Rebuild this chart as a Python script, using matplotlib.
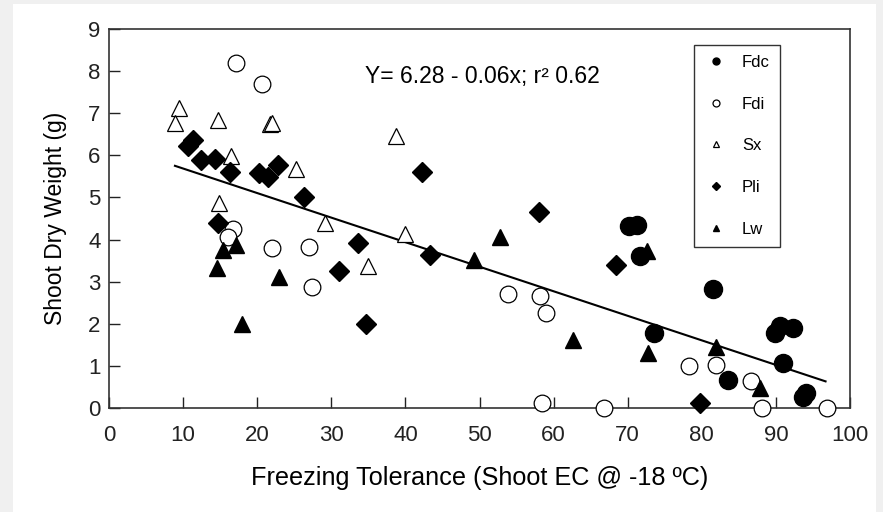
import numpy as np
import matplotlib
matplotlib.use('Agg')
import matplotlib.pyplot as plt
from matplotlib.lines import Line2D
from matplotlib.patches import Rectangle

plt.rcParams['font.family'] = ['Liberation Sans', 'DejaVu Sans']

# Fdc - filled circles
fdc_x = [70.2, 71.2, 71.6, 73.5, 81.5, 83.5, 89.9, 90.6, 92.3, 91.0, 93.7, 94.1]
fdc_y = [4.33, 4.35, 3.61, 1.77, 2.82, 0.67, 1.79, 1.94, 1.90, 1.07, 0.26, 0.36]
# Fdi - open circles
fdi_x = [17.1, 20.7, 16.8, 16.1, 21.95, 27.0, 27.35, 53.9, 58.1, 59.0, 58.4, 66.8, 78.3, 81.9, 86.6, 88.1, 96.9]
fdi_y = [8.19, 7.70, 4.24, 4.05, 3.81, 3.83, 2.87, 2.70, 2.66, 2.26, 0.13, 0.0, 0.99, 1.03, 0.63, 0.0, 0.0]
# Sx - open triangles
sx_x = [9.45, 8.86, 14.7, 21.7, 22.0, 16.4, 25.2, 14.9, 29.2, 38.7, 40.0, 34.95]
sx_y = [7.12, 6.76, 6.85, 6.75, 6.77, 5.99, 5.67, 4.86, 4.40, 6.45, 4.13, 3.37]
# Pli - diamonds
pli_x = [10.6, 11.4, 12.4, 14.3, 16.3, 20.3, 21.5, 22.8, 26.3, 14.75, 33.6, 31.0, 34.7, 42.3, 43.3, 58.0, 68.4, 79.75]
pli_y = [6.21, 6.36, 5.90, 5.91, 5.60, 5.58, 5.48, 5.77, 5.02, 4.40, 3.93, 3.25, 2.00, 5.61, 3.64, 4.66, 3.39, 0.12]
# Lw - filled triangles
lw_x = [17.1, 15.4, 14.6, 23.0, 18.0, 52.7, 49.3, 62.6, 72.6, 72.8, 81.9, 87.8]
lw_y = [3.86, 3.75, 3.33, 3.12, 2.00, 4.05, 3.52, 1.61, 3.73, 1.31, 1.45, 0.48]

# regression line as drawn
fit_a = 6.27
fit_b = -0.0583
fit_xrange = [8.9, 96.7]

fig = plt.figure(figsize=(8.83, 5.12), dpi=100)
fig.patch.set_facecolor('#f0f0f0')
fig.patches.append(Rectangle((13/883, 0), (876-13)/883, (512-4)/512,
                             transform=fig.transFigure, facecolor='white',
                             edgecolor='none', zorder=-10))
ax = fig.add_axes([109/883, 1-408/512, (850-109)/883, (408-29)/512])

ms = 12
ax.plot(fdc_x, fdc_y, 'o', ms=ms+1, color='black', clip_on=False, zorder=3)
ax.plot(fdi_x, fdi_y, 'o', ms=ms, mfc='white', mec='black', mew=0.9, clip_on=False, zorder=3)
ax.plot(sx_x, sx_y, '^', ms=ms, mfc='white', mec='black', mew=0.9, clip_on=False, zorder=3)
ax.plot(pli_x, pli_y, 'D', ms=ms-2, color='black', clip_on=False, zorder=3)
ax.plot(lw_x, lw_y, '^', ms=ms, color='black', clip_on=False, zorder=3)

xx = np.array(fit_xrange)
ax.plot(xx, fit_a + fit_b*xx, color='black', lw=1.5, zorder=2)

ax.text(34.5, 7.88, 'Y= 6.28 - 0.06x; r² 0.62', fontsize=16.5, va='center', ha='left')

ax.set_xlim(0, 100)
ax.set_ylim(0, 9)
ax.set_xticks(np.arange(0, 101, 10))
ax.set_yticks(np.arange(0, 10, 1))
ax.tick_params(direction='in', length=8, width=1, labelsize=16, colors='#222222')
ax.tick_params(axis='x', pad=12)
ax.tick_params(axis='y', pad=6)
for s in ax.spines.values():
    s.set_color('#333333')
    s.set_linewidth(1.2)
ax.set_xlabel('Freezing Tolerance (Shoot EC @ -18 ºC)', fontsize=18.2, labelpad=15)
ax.set_ylabel('Shoot Dry Weight (g)', fontsize=16.5, labelpad=15)

handles = [
    Line2D([], [], ls='', marker='o', ms=5, color='black'),
    Line2D([], [], ls='', marker='o', ms=5, mfc='white', mec='black', mew=0.9),
    Line2D([], [], ls='', marker='^', ms=5, mfc='white', mec='black', mew=0.9),
    Line2D([], [], ls='', marker='D', ms=4, color='black'),
    Line2D([], [], ls='', marker='^', ms=5, color='black'),
]
leg = ax.legend(handles, ['Fdc', 'Fdi', 'Sx', 'Pli', 'Lw'], loc='upper left',
                bbox_to_anchor=(0.789, 0.958), borderaxespad=0, fontsize=12,
                labelspacing=1.6, handlelength=1.5, handletextpad=0.8,
                borderpad=0.6, fancybox=False, framealpha=1, edgecolor='#333333')
leg.get_frame().set_linewidth(1.0)

fig.savefig('out.png', dpi=100, facecolor=fig.get_facecolor())
